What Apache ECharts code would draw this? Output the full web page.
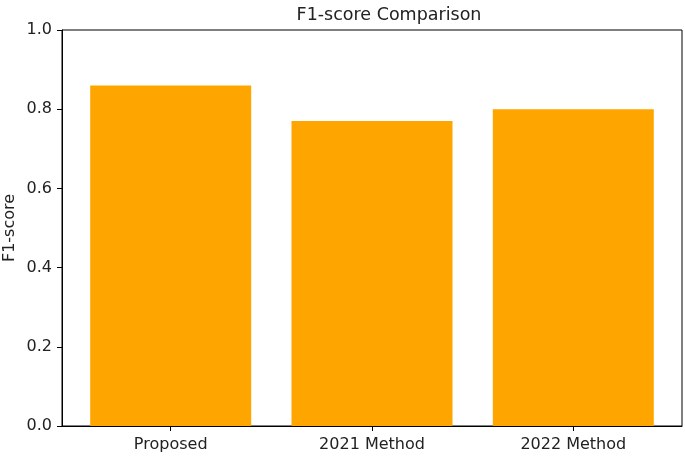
<!DOCTYPE html>
<html>
<head>
<meta charset="utf-8">
<script src="https://cdn.jsdelivr.net/npm/echarts@6/dist/echarts.min.js"></script>
<style>
  html, body { margin: 0; padding: 0; background: #fff; }
  #chart { width: 685px; height: 457px; }
</style>
</head>
<body>
<div id="chart"></div>
<script>
// data
const categories = ['Proposed', '2021 Method', '2022 Method']
const f1Scores = [0.86, 0.77, 0.80]

const font = 'DejaVu Sans'
const chart = echarts.init(document.getElementById('chart'))

const barData = f1Scores.map((v, i) => [i, v])

const option = {
  animation: false,
  title: {
    text: 'F1-score Comparison',
    left: 384,
    top: 1,
    textAlign: 'center',
    textStyle: { fontFamily: font, fontSize: 17.5, fontWeight: 'normal', color: '#222' }
  },
  grid: {
    left: 62, right: 3, top: 30, bottom: 31,
    outerBoundsMode: 'none',
    show: true, borderColor: '#000', borderWidth: 1, backgroundColor: 'transparent'
  },
  xAxis: {
    type: 'value',
    min: -0.54,
    max: 2.54,
    splitLine: { show: false },
    axisLine: { onZero: false, lineStyle: { color: '#000', width: 1 } },
    axisTick: { customValues: [0, 1, 2], length: 5, lineStyle: { color: '#000' } },
    axisLabel: {
      customValues: [0, 1, 2],
      formatter: v => categories[Math.round(v)],
      fontFamily: font, fontSize: 16, color: '#222', margin: 11
    }
  },
  yAxis: {
    type: 'value',
    min: 0,
    max: 1,
    interval: 0.2,
    name: 'F1-score',
    nameLocation: 'middle',
    nameGap: 44,
    nameMoveOverlap: false,
    nameTextStyle: { fontFamily: font, fontSize: 16, color: '#222' },
    splitLine: { show: false },
    axisLine: { show: true, onZero: false, lineStyle: { color: '#000', width: 1 } },
    axisTick: { show: true, length: 5, lineStyle: { color: '#000' } },
    axisLabel: {
      formatter: v => v.toFixed(1),
      fontFamily: font, fontSize: 16, color: '#222', margin: 10
    }
  },
  series: [{
    type: 'bar',
    data: barData,
    barWidth: 161,
    itemStyle: { color: '#FFA500' }
  }]
}

chart.setOption(option)
</script>
</body>
</html>
